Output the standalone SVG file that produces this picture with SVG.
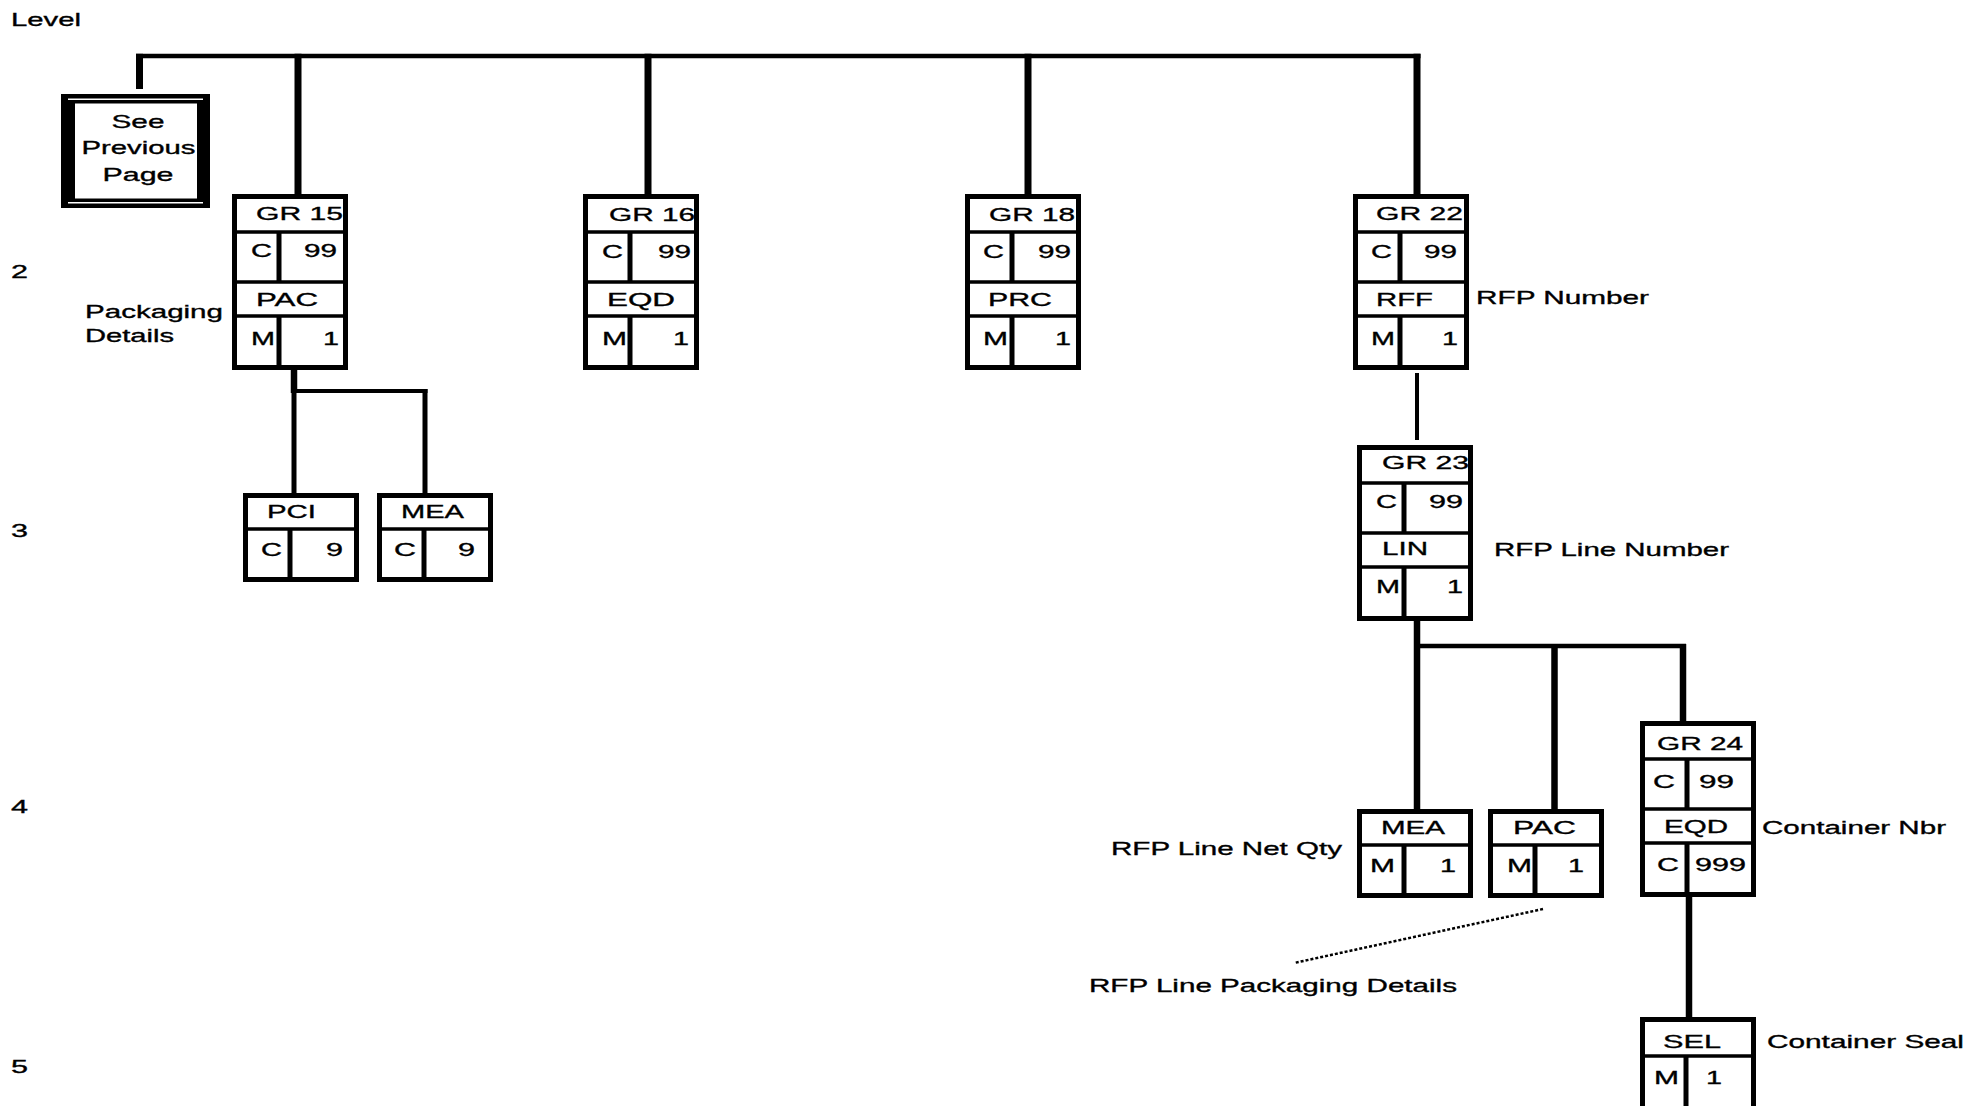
<svg xmlns="http://www.w3.org/2000/svg" width="1986" height="1106" viewBox="0 0 1986 1106">
<style>
text { font-family: "Liberation Sans", Arial, sans-serif; font-size: 19px; fill: #000; stroke: #000; stroke-width: 0.35; }
.mid { text-anchor: middle; }
.box { fill: #fff; stroke: #000; stroke-width: 5; }
.hd { stroke: #000; stroke-width: 3.5; fill: none; }
.vd { stroke: #000; stroke-width: 5; fill: none; }
.bus { stroke: #000; stroke-width: 4.5; fill: none; }
.drop { stroke: #000; stroke-width: 7; fill: none; }
.ln { stroke: #000; stroke-width: 5; fill: none; }
.ln6 { stroke: #000; stroke-width: 6.5; fill: none; }
.thin { stroke: #000; stroke-width: 4; fill: none; }
.dot { stroke: #000; stroke-width: 2.5; stroke-dasharray: 3 2; fill: none; }
</style>
<defs>
<g id="frame4">
<rect x="2.5" y="2.5" width="111" height="171" class="box"/>
<path d="M0,38H116M0,88H116M0,122H116" class="hd"/>
<path d="M47,38V88M47,122V174" class="vd"/>
</g>
<g id="frame2">
<rect x="2.5" y="2.5" width="111" height="84" class="box"/>
<path d="M0,36H116" class="hd"/>
<path d="M47,36V87" class="vd"/>
</g>
</defs>
<rect width="1986" height="1106" fill="#fff"/>

<g id="levels">
<text x="11" y="26" textLength="70" lengthAdjust="spacingAndGlyphs">Level</text>
<text x="11" y="278" textLength="17" lengthAdjust="spacingAndGlyphs">2</text>
<text x="11" y="537" textLength="17" lengthAdjust="spacingAndGlyphs">3</text>
<text x="11" y="813" textLength="17" lengthAdjust="spacingAndGlyphs">4</text>
<text x="11" y="1073" textLength="17" lengthAdjust="spacingAndGlyphs">5</text>
</g>

<g id="connectors">
<path class="bus" d="M136,56H1420.5"/>
<path class="drop" d="M139.5,53.8V89"/>
<path class="drop" d="M298,53.8V195"/>
<path class="drop" d="M648,53.8V195"/>
<path class="drop" d="M1028,53.8V195"/>
<path class="drop" d="M1417,53.8V195"/>
<path class="ln6" d="M294,369V393"/>
<path class="thin" d="M291.5,391H427.5"/>
<path class="ln" d="M294,389V494M425,389V494"/>
<path class="thin" d="M1417,373V440"/>
<path class="bus" d="M1414,646H1686"/>
<path class="ln6" d="M1417,619V810"/>
<path class="ln6" d="M1554.5,644V810"/>
<path class="ln6" d="M1683,644V722"/>
<path class="ln6" d="M1689,896V1018"/>
<path class="dot" d="M1543,909L1294,963"/>
</g>

<g id="see-previous-page">
<rect x="61" y="94" width="149" height="114" fill="#000"/>
<path d="M68,99.2H203M68,202.8H203" stroke="#fff" stroke-width="1.6"/>
<rect x="75" y="103.5" width="122" height="95" fill="#fff"/>
<text class="mid" x="138" y="128" textLength="53" lengthAdjust="spacingAndGlyphs">See</text>
<text class="mid" x="138.5" y="154" textLength="114" lengthAdjust="spacingAndGlyphs">Previous</text>
<text class="mid" x="138" y="181" textLength="71" lengthAdjust="spacingAndGlyphs">Page</text>
</g>

<g id="gr15">
<use href="#frame4" x="232" y="194"/>
<text x="256" y="220" textLength="87" lengthAdjust="spacingAndGlyphs">GR 15</text>
<text x="251" y="257" textLength="21" lengthAdjust="spacingAndGlyphs">C</text>
<text x="304" y="257" textLength="33" lengthAdjust="spacingAndGlyphs">99</text>
<text x="256" y="306" textLength="62" lengthAdjust="spacingAndGlyphs">PAC</text>
<text x="251" y="345" textLength="24" lengthAdjust="spacingAndGlyphs">M</text>
<text x="323" y="345" textLength="16" lengthAdjust="spacingAndGlyphs">1</text>
<text x="85" y="318" textLength="138" lengthAdjust="spacingAndGlyphs">Packaging</text>
<text x="85" y="342" textLength="89" lengthAdjust="spacingAndGlyphs">Details</text>
</g>

<g id="gr16">
<use href="#frame4" x="583" y="194"/>
<text x="609" y="221" textLength="86" lengthAdjust="spacingAndGlyphs">GR 16</text>
<text x="602" y="258" textLength="21" lengthAdjust="spacingAndGlyphs">C</text>
<text x="658" y="258" textLength="33" lengthAdjust="spacingAndGlyphs">99</text>
<text x="607" y="306" textLength="68" lengthAdjust="spacingAndGlyphs">EQD</text>
<text x="602" y="345" textLength="25" lengthAdjust="spacingAndGlyphs">M</text>
<text x="673" y="345" textLength="16" lengthAdjust="spacingAndGlyphs">1</text>
</g>

<g id="gr18">
<use href="#frame4" x="965" y="194"/>
<text x="989" y="221" textLength="86" lengthAdjust="spacingAndGlyphs">GR 18</text>
<text x="983" y="258" textLength="21" lengthAdjust="spacingAndGlyphs">C</text>
<text x="1038" y="258" textLength="33" lengthAdjust="spacingAndGlyphs">99</text>
<text x="988" y="306" textLength="64" lengthAdjust="spacingAndGlyphs">PRC</text>
<text x="983" y="345" textLength="25" lengthAdjust="spacingAndGlyphs">M</text>
<text x="1055" y="345" textLength="16" lengthAdjust="spacingAndGlyphs">1</text>
</g>

<g id="gr22">
<use href="#frame4" x="1353" y="194"/>
<text x="1376" y="220" textLength="87" lengthAdjust="spacingAndGlyphs">GR 22</text>
<text x="1371" y="258" textLength="21" lengthAdjust="spacingAndGlyphs">C</text>
<text x="1424" y="258" textLength="33" lengthAdjust="spacingAndGlyphs">99</text>
<text x="1376" y="306" textLength="57" lengthAdjust="spacingAndGlyphs">RFF</text>
<text x="1371" y="345" textLength="24" lengthAdjust="spacingAndGlyphs">M</text>
<text x="1442" y="345" textLength="16" lengthAdjust="spacingAndGlyphs">1</text>
<text x="1476" y="304" textLength="173" lengthAdjust="spacingAndGlyphs">RFP Number</text>
</g>

<g id="pci">
<use href="#frame2" x="243" y="493"/>
<text x="267" y="518" textLength="49" lengthAdjust="spacingAndGlyphs">PCI</text>
<text x="261" y="556" textLength="21" lengthAdjust="spacingAndGlyphs">C</text>
<text x="326" y="556" textLength="17" lengthAdjust="spacingAndGlyphs">9</text>
</g>

<g id="mea3">
<use href="#frame2" x="377" y="493"/>
<text x="401" y="518" textLength="63" lengthAdjust="spacingAndGlyphs">MEA</text>
<text x="394" y="556" textLength="22" lengthAdjust="spacingAndGlyphs">C</text>
<text x="458" y="556" textLength="17" lengthAdjust="spacingAndGlyphs">9</text>
</g>

<g id="gr23">
<use href="#frame4" x="1357" y="445"/>
<text x="1382" y="469" textLength="87" lengthAdjust="spacingAndGlyphs">GR 23</text>
<text x="1376" y="508" textLength="21" lengthAdjust="spacingAndGlyphs">C</text>
<text x="1429" y="508" textLength="34" lengthAdjust="spacingAndGlyphs">99</text>
<text x="1382" y="555" textLength="46" lengthAdjust="spacingAndGlyphs">LIN</text>
<text x="1376" y="593" textLength="24" lengthAdjust="spacingAndGlyphs">M</text>
<text x="1447" y="593" textLength="16" lengthAdjust="spacingAndGlyphs">1</text>
<text x="1494" y="556" textLength="235" lengthAdjust="spacingAndGlyphs">RFP Line Number</text>
</g>

<g id="mea4">
<use href="#frame2" x="1357" y="809"/>
<text x="1381" y="834" textLength="64" lengthAdjust="spacingAndGlyphs">MEA</text>
<text x="1370" y="872" textLength="25" lengthAdjust="spacingAndGlyphs">M</text>
<text x="1440" y="872" textLength="16" lengthAdjust="spacingAndGlyphs">1</text>
<text x="1111" y="855" textLength="231" lengthAdjust="spacingAndGlyphs">RFP Line Net Qty</text>
</g>

<g id="pac4">
<use href="#frame2" x="1488" y="809"/>
<text x="1513" y="834" textLength="63" lengthAdjust="spacingAndGlyphs">PAC</text>
<text x="1507" y="872" textLength="25" lengthAdjust="spacingAndGlyphs">M</text>
<text x="1568" y="872" textLength="16" lengthAdjust="spacingAndGlyphs">1</text>
<text x="1089" y="992" textLength="368" lengthAdjust="spacingAndGlyphs">RFP Line Packaging Details</text>
</g>

<g id="gr24">
<use href="#frame4" x="1640" y="721"/>
<text x="1657" y="750" textLength="86" lengthAdjust="spacingAndGlyphs">GR 24</text>
<text x="1653" y="788" textLength="22" lengthAdjust="spacingAndGlyphs">C</text>
<text x="1699" y="788" textLength="35" lengthAdjust="spacingAndGlyphs">99</text>
<text x="1664" y="833" textLength="64" lengthAdjust="spacingAndGlyphs">EQD</text>
<text x="1657" y="871" textLength="22" lengthAdjust="spacingAndGlyphs">C</text>
<text x="1695" y="871" textLength="51" lengthAdjust="spacingAndGlyphs">999</text>
<text x="1762" y="834" textLength="184" lengthAdjust="spacingAndGlyphs">Container Nbr</text>
</g>

<g id="sel">
<rect x="1642.5" y="1019.5" width="111" height="100" class="box"/>
<path d="M1640,1056H1756" class="hd"/>
<path d="M1686,1056V1110" class="vd"/>
<text x="1663" y="1048" textLength="58" lengthAdjust="spacingAndGlyphs">SEL</text>
<text x="1654" y="1084" textLength="25" lengthAdjust="spacingAndGlyphs">M</text>
<text x="1706" y="1084" textLength="16" lengthAdjust="spacingAndGlyphs">1</text>
<text x="1767" y="1048" textLength="197" lengthAdjust="spacingAndGlyphs">Container Seal</text>
</g>
</svg>
